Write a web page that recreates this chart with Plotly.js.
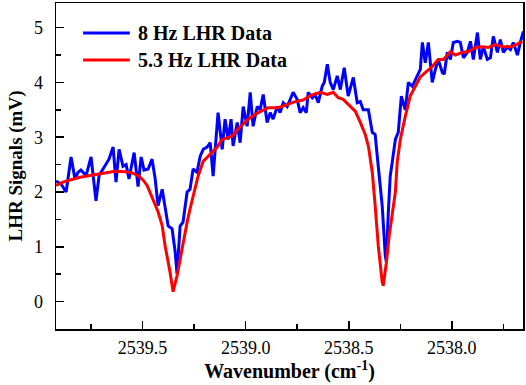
<!DOCTYPE html>
<html>
<head>
<meta charset="utf-8">
<script src="https://cdn.plot.ly/plotly-3.0.1.min.js"></script>
<style>
  html, body { margin: 0; padding: 0; background: #fff; }
  #plot { width: 526px; height: 385px; }
</style>
</head>
<body>
<div id="plot"></div>
<script>
// 8 Hz LHR data (wavenumber in cm^-1, signal in mV)
const wn8 = [
  2539.920, 2539.896, 2539.871, 2539.847, 2539.828, 2539.813, 2539.799, 2539.774, 2539.750, 2539.726,
  2539.711, 2539.687, 2539.663, 2539.643, 2539.629, 2539.614, 2539.595, 2539.580, 2539.566, 2539.541,
  2539.522, 2539.507, 2539.493, 2539.473, 2539.454, 2539.439, 2539.425, 2539.405, 2539.391, 2539.376,
  2539.357, 2539.342, 2539.333, 2539.318, 2539.304, 2539.284, 2539.270, 2539.255, 2539.236, 2539.221,
  2539.206, 2539.187, 2539.172, 2539.158, 2539.134, 2539.114, 2539.100, 2539.085, 2539.071, 2539.061,
  2539.041, 2539.027, 2539.012, 2538.993, 2538.978, 2538.964, 2538.944, 2538.930, 2538.915, 2538.896,
  2538.881, 2538.867, 2538.847, 2538.833, 2538.818, 2538.799, 2538.784, 2538.770, 2538.750, 2538.736,
  2538.721, 2538.706, 2538.697, 2538.677, 2538.663, 2538.648, 2538.629, 2538.619, 2538.604, 2538.590,
  2538.575, 2538.556, 2538.541, 2538.522, 2538.503, 2538.478, 2538.459, 2538.444, 2538.430, 2538.405,
  2538.386, 2538.372, 2538.357, 2538.338, 2538.323, 2538.318, 2538.308, 2538.299, 2538.289, 2538.274,
  2538.260, 2538.245, 2538.226, 2538.211, 2538.192, 2538.177, 2538.163, 2538.153, 2538.143, 2538.129,
  2538.114, 2538.095, 2538.080, 2538.066, 2538.046, 2538.037, 2538.022, 2538.007, 2537.993, 2537.973,
  2537.959, 2537.944, 2537.925, 2537.910, 2537.896, 2537.876, 2537.862, 2537.847, 2537.828, 2537.813,
  2537.799, 2537.779, 2537.765, 2537.750, 2537.731, 2537.716, 2537.702, 2537.682, 2537.668, 2537.653
];
const sig8 = [
  2.20, 2.15, 2.00, 2.64, 2.24, 2.36, 2.40, 2.30, 2.64, 1.84,
  2.30, 2.45, 2.60, 2.82, 2.18, 2.78, 2.47, 2.50, 2.24, 2.72,
  2.10, 2.64, 2.40, 2.42, 2.60, 2.24, 1.75, 2.05, 1.69, 1.38,
  1.33, 0.91, 0.50, 1.38, 1.45, 2.00, 2.05, 2.42, 2.36, 2.65,
  2.78, 2.82, 2.90, 2.29, 3.45, 2.78, 3.33, 2.96, 3.33, 2.84,
  3.27, 2.90, 3.56, 3.20, 3.82, 3.20, 3.56, 3.50, 3.78, 3.27,
  3.45, 3.33, 3.56, 3.45, 3.63, 3.56, 3.69, 3.82, 3.69, 3.45,
  3.54, 3.45, 3.82, 3.72, 3.78, 3.63, 3.93, 4.00, 4.33, 4.00,
  3.87, 4.12, 3.87, 4.27, 3.75, 4.09, 3.63, 3.65, 3.50, 3.50,
  3.09, 3.05, 2.47, 1.75, 0.84, 0.73, 1.64, 2.29, 2.55, 2.96,
  3.09, 3.75, 3.50, 4.00, 3.93, 4.05, 4.18, 4.24, 4.73, 4.36,
  4.73, 4.00, 4.24, 4.42, 4.18, 4.15, 4.55, 4.42, 4.73, 4.75,
  4.73, 4.45, 4.55, 4.75, 4.42, 4.91, 4.42, 4.65, 4.42, 4.45,
  4.84, 4.55, 4.78, 4.55, 4.65, 4.60, 4.73, 4.50, 4.73, 4.93
];

// 5.3 Hz LHR data
const wn53 = [
  2539.920, 2539.886, 2539.852, 2539.803, 2539.755, 2539.706, 2539.677, 2539.634, 2539.585, 2539.551,
  2539.522, 2539.498, 2539.478, 2539.464, 2539.449, 2539.425, 2539.405, 2539.391, 2539.367, 2539.352,
  2539.333, 2539.318, 2539.304, 2539.284, 2539.270, 2539.255, 2539.231, 2539.206, 2539.172, 2539.138,
  2539.114, 2539.066, 2539.037, 2538.988, 2538.939, 2538.891, 2538.842, 2538.799, 2538.760, 2538.721,
  2538.687, 2538.638, 2538.604, 2538.575, 2538.551, 2538.527, 2538.493, 2538.468, 2538.444, 2538.420,
  2538.405, 2538.386, 2538.372, 2538.357, 2538.338, 2538.333, 2538.318, 2538.304, 2538.289, 2538.274,
  2538.265, 2538.250, 2538.226, 2538.202, 2538.177, 2538.153, 2538.129, 2538.095, 2538.066, 2538.041,
  2538.007, 2537.983, 2537.949, 2537.920, 2537.886, 2537.852, 2537.823, 2537.789, 2537.755, 2537.716,
  2537.687, 2537.658
];
const sig53 = [
  2.12, 2.18, 2.22, 2.27, 2.30, 2.33, 2.35, 2.38, 2.37, 2.35,
  2.30, 2.22, 2.12, 2.00, 1.85, 1.64, 1.39, 1.02, 0.54, 0.18,
  0.47, 0.78, 1.09, 1.45, 1.69, 1.93, 2.29, 2.56, 2.69, 2.82,
  2.96, 3.02, 3.15, 3.33, 3.45, 3.54, 3.54, 3.60, 3.65, 3.68,
  3.76, 3.82, 3.78, 3.82, 3.72, 3.69, 3.56, 3.47, 3.27, 3.05,
  2.84, 2.36, 1.75, 1.02, 0.36, 0.29, 0.70, 1.20, 1.60, 2.00,
  2.55, 2.96, 3.38, 3.75, 3.93, 4.10, 4.18, 4.29, 4.42, 4.42,
  4.56, 4.50, 4.55, 4.56, 4.64, 4.65, 4.64, 4.69, 4.65, 4.65,
  4.69, 4.75
];

const seriesNames = ['8 Hz LHR Data', '5.3 Hz LHR Data'];
const seriesColors = ['#0000ff', '#ff0000'];
const xRange = [2539.92, 2537.655];
const yRange = [-0.5, 5.45];

const serif = 'Liberation Serif';

const data = [
  { x: wn8, y: sig8, type: 'scatter', mode: 'lines', name: seriesNames[0],
    line: { color: seriesColors[0], width: 3 } },
  { x: wn53, y: sig53, type: 'scatter', mode: 'lines', name: seriesNames[1],
    line: { color: seriesColors[1], width: 3 } }
];

// hand-made legend (longer sample lines than Plotly's own)
const legendRows = [0.908, 0.825];
const shapes = [];
const annotations = [];
seriesNames.forEach((name, i) => {
  shapes.push({ type: 'line', xref: 'paper', yref: 'paper',
    x0: 0.058, x1: 0.158, y0: legendRows[i], y1: legendRows[i],
    line: { color: seriesColors[i], width: 3 } });
  annotations.push({ xref: 'paper', yref: 'paper', x: 0.172, y: legendRows[i],
    xanchor: 'left', yanchor: 'middle', showarrow: false, text: name,
    font: { family: serif, size: 20, color: '#000', weight: 'bold' } });
});

const axisCommon = {
  showgrid: false, zeroline: false,
  showline: true, linecolor: '#000', linewidth: 1.5, mirror: true,
  ticks: 'inside', ticklen: 8, tickwidth: 1.5, tickcolor: '#000',
  tickfont: { family: serif, size: 18, color: '#000' }
};

const layout = {
  width: 526, height: 385,
  margin: { l: 56, r: 3, t: 3, b: 56 },
  paper_bgcolor: '#fff', plot_bgcolor: '#fff',
  showlegend: false,
  shapes: shapes,
  annotations: annotations,
  xaxis: Object.assign({}, axisCommon, {
    range: xRange, tick0: 2538.0, dtick: 0.5, tickformat: '.1f',
    ticklabelstandoff: 2,
    minor: { dtick: 0.25, tick0: 2538.0, ticks: 'inside', ticklen: 5, tickwidth: 1.5, tickcolor: '#000' },
    title: { text: '<b>Wavenumber (cm<sup>-1</sup>)</b>', standoff: 4,
             font: { family: 'Times New Roman', size: 20, color: '#000' } }
  }),
  yaxis: Object.assign({}, axisCommon, {
    range: yRange, tick0: 0, dtick: 1,
    ticklabelstandoff: 8,
    minor: { dtick: 0.5, tick0: 0, ticks: 'inside', ticklen: 5, tickwidth: 1.5, tickcolor: '#000' },
    title: { text: '<b>LHR Signals (mV)</b>', standoff: 6,
             font: { family: 'Times New Roman', size: 19, color: '#000' } }
  })
};

Plotly.newPlot('plot', data, layout, { displayModeBar: false, staticPlot: true });
</script>
</body>
</html>
